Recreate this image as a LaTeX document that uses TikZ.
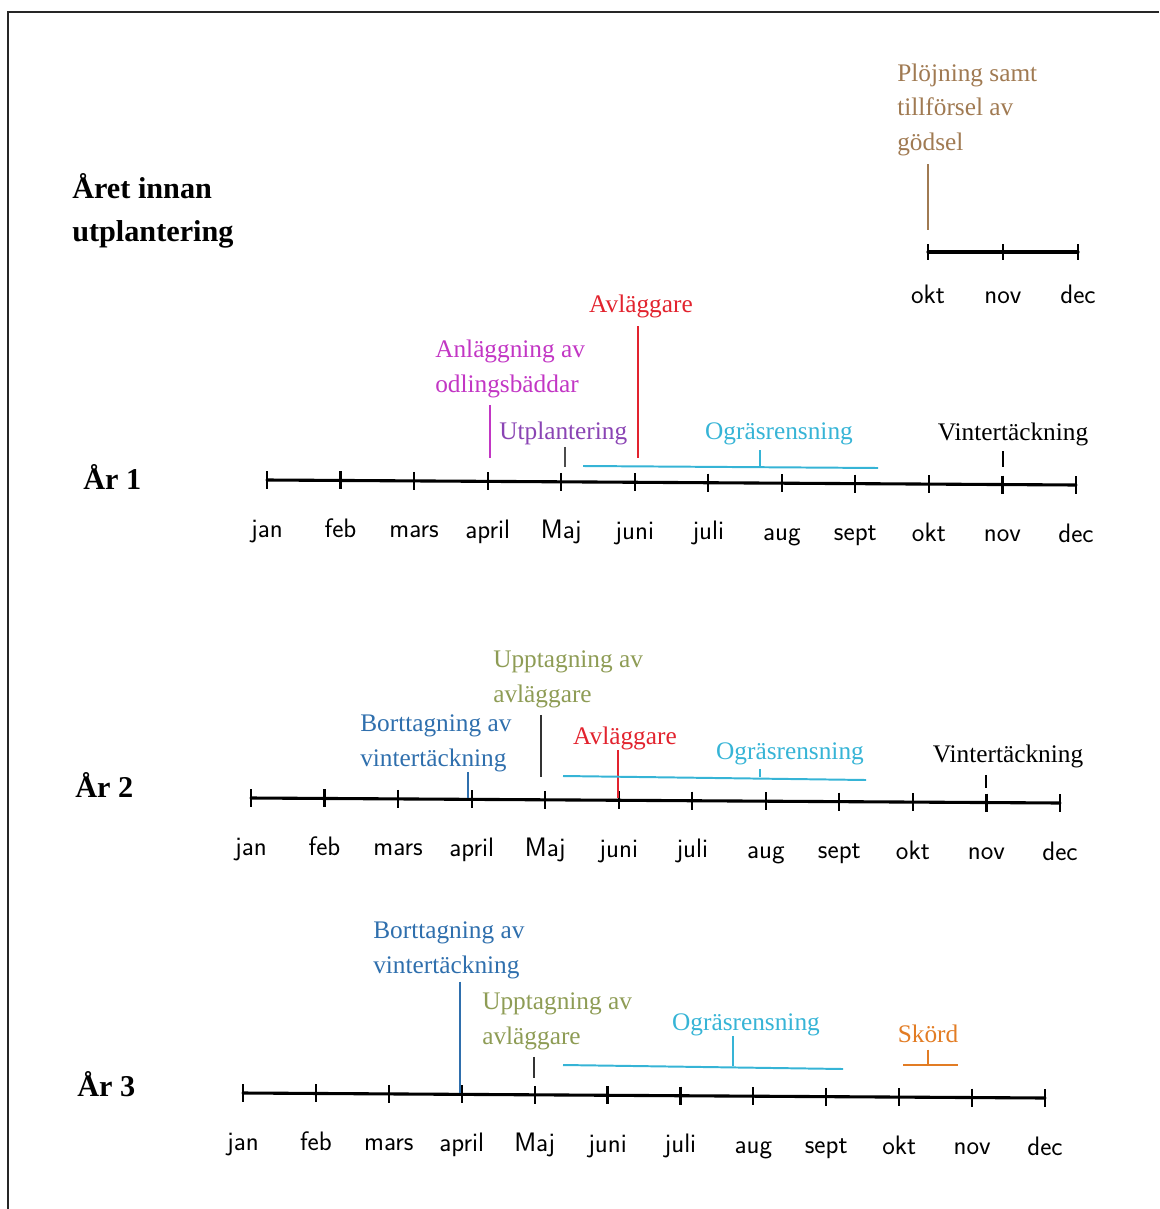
\documentclass[tikz,border=0pt]{standalone}
\usepackage{fontspec}
\setmainfont{Liberation Serif}
\usepackage{tikz}
\usepackage{xcolor}
\usetikzlibrary{calc, positioning}
\definecolor{PlowBrown}{HTML}{A07A52}
\definecolor{CuttingRed}{HTML}{E2232E}
\definecolor{BedMagenta}{HTML}{C236C4}
\definecolor{PlantPurple}{HTML}{8A44B4}
\definecolor{WeedCyan}{HTML}{36B4D6}
\definecolor{CoverBlue}{HTML}{2F6FAD}
\definecolor{LiftOlive}{HTML}{8E9C55}
\definecolor{HarvestOrange}{HTML}{E27C24}

\begin{document}
\begin{tikzpicture}[x=0.025cm, y=-0.025cm,
        event/.style={inner sep=0pt, align=left, font=\fontsize{18}{24.5}\selectfont},
        year/.style={inner sep=0pt, align=left, anchor=base west, font=\bfseries\fontsize{21.5}{30}\selectfont},
        month/.style={inner sep=0pt, anchor=base, font=\sffamily\fontsize{19}{19}\selectfont},
        timeline/.style={line width=2.2pt, line cap=round},
        tickmark/.style={line width=1.6pt},
        marker/.style={line width=0.9pt},
        bracket/.style={line width=1.4pt}]

        \useasboundingbox (0,0) rectangle (1159,1209);
        \draw[line width=1.8pt, black!85] (1159,12) -| (8,1209);

        % the year before planting
        \node[year] (yr0) at (72,241) {Året innan\\utplantering};
        \coordinate (y0s) at (928,252);
        \coordinate (y0e) at (1078,252);
        \draw[timeline] (y0s) -- (y0e);
        \foreach \m [count=\i from 0] in {okt,nov,dec} {
                \coordinate (t0-\i) at ($(y0s)!{\i/2}!(y0e)$);
                \draw[tickmark] ($(t0-\i)+(0,-8)$) -- ($(t0-\i)+(0,8)$);
                \node[month] (m0-\i) at ($(t0-\i)+(0,51)$) {\m};
            }
        \node[event, PlowBrown, anchor=base west] (plow) at (897,150) {Plöjning samt\\tillförsel av\\gödsel};
        \coordinate (plow-e) at (928,230);
        \draw[marker, PlowBrown, shorten <=6pt] (plow.south -| plow-e) -- (plow-e);

        % year 1
        \node[year] (yr1) at (83,489) {År 1};
        \coordinate (y1s) at (267,480);
        \coordinate (y1e) at (1076,485);
        \draw[timeline] (y1s) -- (y1e);
        \foreach \m [count=\i from 0] in {jan,feb,mars,april,Maj,juni,juli,aug,sept,okt,nov,dec} {
                \coordinate (t1-\i) at ($(y1s)!{\i/11}!(y1e)$);
                \draw[tickmark] ($(t1-\i)+(0,-9)$) -- ($(t1-\i)+(0,9)$);
                \node[month] (m1-\i) at ($(t1-\i)+(0,57)$) {\m};
            }

        \node[event, CuttingRed, anchor=base] (cut1) at (641,312) {Avläggare};
        \node[event, BedMagenta, anchor=base west] (bed1) at (435,392) {Anläggning av\\odlingsbäddar};
        \node[event, PlantPurple, anchor=base west] (plant1) at (499,439) {Utplantering};
        \node[event, WeedCyan, anchor=base] (weed1) at (779,439) {Ogräsrensning};
        \node[event, anchor=base] (cover1) at (1013,440) {Vintertäckning};

        \coordinate (cut1-e) at (638,458);
        \coordinate (bed1-e) at (490,458);
        \coordinate (plant1-e) at (565,467);
        \coordinate (weed1-l) at (583,466);
        \coordinate (weed1-r) at (878,468);
        \coordinate (weed1-e) at (760,467);
        \coordinate (cover1-e) at (1003,467);

        \draw[marker, CuttingRed, shorten <=6pt] (cut1.south -| cut1-e) -- (cut1-e);
        \draw[marker, BedMagenta, shorten <=5pt] (bed1.south -| bed1-e) -- (bed1-e);
        \draw[marker, black!70, shorten <=1.5pt] (plant1.south -| plant1-e) -- (plant1-e);
        \draw[bracket, WeedCyan] (weed1-l) -- (weed1-r);
        \draw[marker, WeedCyan, shorten <=4pt] (weed1.south -| weed1-e) -- (weed1-e);
        \draw[marker, shorten <=4pt] (cover1.south -| cover1-e) -- (cover1-e);

        % year 2
        \node[year] (yr2) at (75,797) {År 2};
        \coordinate (y2s) at (251,798);
        \coordinate (y2e) at (1060,803);
        \draw[timeline] (y2s) -- (y2e);
        \foreach \m [count=\i from 0] in {jan,feb,mars,april,Maj,juni,juli,aug,sept,okt,nov,dec} {
                \coordinate (t2-\i) at ($(y2s)!{\i/11}!(y2e)$);
                \draw[tickmark] ($(t2-\i)+(0,-9)$) -- ($(t2-\i)+(0,9)$);
                \node[month] (m2-\i) at ($(t2-\i)+(0,57)$) {\m};
            }

        \node[event, LiftOlive, anchor=base west] (lift2) at (493,702) {Upptagning av\\avläggare};
        \node[event, CoverBlue, anchor=base west] (uncover2) at (360,766) {Borttagning av\\vintertäckning};
        \node[event, CuttingRed, anchor=base] (cut2) at (625,744) {Avläggare};
        \node[event, WeedCyan, anchor=base] (weed2) at (790,759) {Ogräsrensning};
        \node[event, anchor=base] (cover2) at (1008,762) {Vintertäckning};

        \coordinate (lift2-e) at (541,777);
        \coordinate (uncover2-e) at (468,798);
        \coordinate (cut2-e) at (618,798);
        \coordinate (weed2-l) at (563,776);
        \coordinate (weed2-r) at (866,780);
        \coordinate (weed2-e) at (760,777);
        \coordinate (cover2-e) at (986,788);

        \draw[marker, black!80, shorten <=5pt] (lift2.south -| lift2-e) -- (lift2-e);
        \draw[marker, CoverBlue] (uncover2.south -| uncover2-e) -- (uncover2-e);
        \draw[marker, CuttingRed] (cut2.south -| cut2-e) -- (cut2-e);
        \draw[bracket, WeedCyan] (weed2-l) -- (weed2-r);
        \draw[marker, WeedCyan, shorten <=3pt] (weed2.south -| weed2-e) -- (weed2-e);
        \draw[marker, shorten <=5pt] (cover2.south -| cover2-e) -- (cover2-e);

        % year 3
        \node[year] (yr3) at (77,1096) {År 3};
        \coordinate (y3s) at (243,1093);
        \coordinate (y3e) at (1045,1098);
        \draw[timeline] (y3s) -- (y3e);
        \foreach \m [count=\i from 0] in {jan,feb,mars,april,Maj,juni,juli,aug,sept,okt,nov,dec} {
                \coordinate (t3-\i) at ($(y3s)!{\i/11}!(y3e)$);
                \draw[tickmark] ($(t3-\i)+(0,-9)$) -- ($(t3-\i)+(0,9)$);
                \node[month] (m3-\i) at ($(t3-\i)+(0,57)$) {\m};
            }

        \node[event, CoverBlue, anchor=base west] (uncover3) at (373,973) {Borttagning av\\vintertäckning};
        \node[event, LiftOlive, anchor=base west] (lift3) at (482,1044) {Upptagning av\\avläggare};
        \node[event, WeedCyan, anchor=base] (weed3) at (746,1030) {Ogräsrensning};
        \node[event, HarvestOrange, anchor=base] (harvest3) at (928,1042) {Skörd};

        \coordinate (uncover3-e) at (460,1093);
        \coordinate (lift3-e) at (534,1078);
        \coordinate (weed3-l) at (563,1065);
        \coordinate (weed3-r) at (843,1069);
        \coordinate (weed3-e) at (733,1066);
        \coordinate (harvest3-l) at (903,1065);
        \coordinate (harvest3-r) at (958,1065);
        \coordinate (harvest3-e) at (928,1065);

        \draw[marker, CoverBlue, shorten <=2pt] (uncover3.south -| uncover3-e) -- (uncover3-e);
        \draw[marker, black!80, shorten <=5pt] (lift3.south -| lift3-e) -- (lift3-e);
        \draw[bracket, WeedCyan] (weed3-l) -- (weed3-r);
        \draw[marker, WeedCyan] (weed3.south -| weed3-e) -- (weed3-e);
        \draw[bracket, HarvestOrange] (harvest3-l) -- (harvest3-r);
        \draw[marker, HarvestOrange, shorten <=5pt] (harvest3.south -| harvest3-e) -- (harvest3-e);

    \end{tikzpicture}
\end{document}
